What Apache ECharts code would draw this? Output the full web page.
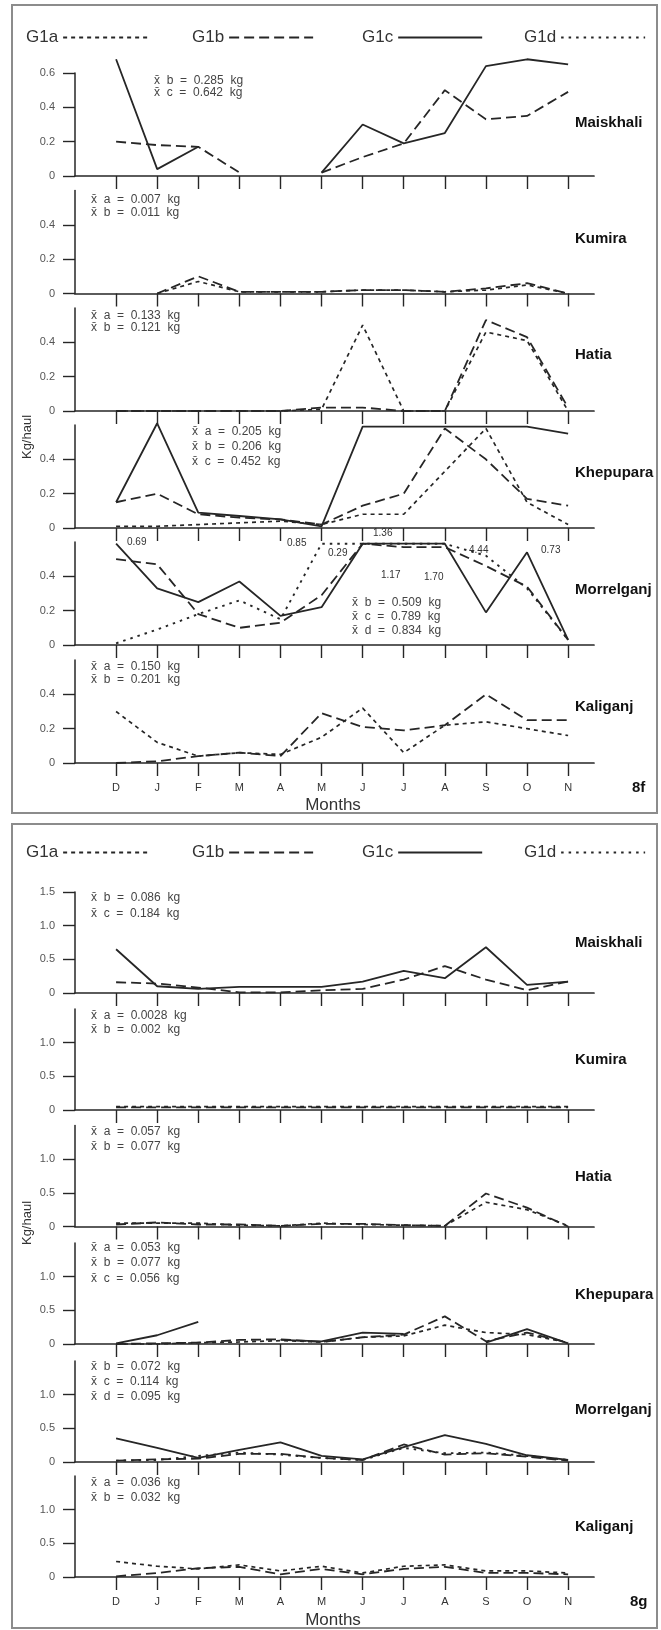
<!DOCTYPE html>
<html>
<head>
<meta charset="utf-8">
<script src="https://cdn.jsdelivr.net/npm/echarts@6/dist/echarts.min.js"></script>
<style>
html,body{margin:0;padding:0;background:#fff;}
#chart{width:661px;height:1630px;}
</style>
</head>
<body>
<div id="chart"></div>
<script>
// ---------- categories ----------
const months = ['D','J','F','M','A','M','J','J','A','S','O','N'];
const seriesNames = ['G1a','G1b','G1c','G1d'];
const stations = ['Maiskhali','Kumira','Hatia','Khepupara','Morrelganj','Kaliganj'];

// ---------- tick labels ----------
const ticks8f = [0, 0.2, 0.4, 0.6];
const ticks8g = [0, 0.5, 1.0, 1.5];

// ---------- Fig 8f values (kg/haul) ----------
const f_maiskhali_b = [0.20, 0.18, 0.17, 0.02, null, 0.02, 0.11, 0.19, 0.50, 0.33, 0.35, 0.49];
const f_maiskhali_c = [0.68, 0.04, 0.17, null, null, 0.02, 0.30, 0.19, 0.25, 0.64, 0.68, 0.65];

const f_kumira_a = [null, 0.00, 0.07, 0.01, 0.01, 0.01, 0.02, 0.02, 0.01, 0.02, 0.05, 0.00];
const f_kumira_b = [null, 0.00, 0.10, 0.01, 0.01, 0.01, 0.02, 0.02, 0.01, 0.03, 0.06, 0.00];

const f_hatia_a = [0.00, 0.00, 0.00, 0.00, 0.00, 0.01, 0.50, 0.00, 0.00, 0.46, 0.41, 0.00];
const f_hatia_b = [0.00, 0.00, 0.00, 0.00, 0.00, 0.02, 0.02, 0.00, 0.00, 0.53, 0.43, 0.02];

const f_khepupara_a = [0.01, 0.01, 0.02, 0.03, 0.04, 0.02, 0.08, 0.08, 0.33, 0.58, 0.15, 0.02];
const f_khepupara_b = [0.15, 0.20, 0.08, 0.06, 0.05, 0.02, 0.13, 0.20, 0.58, 0.40, 0.17, 0.13];
const f_khepupara_c = [0.15, 0.61, 0.09, 0.07, 0.05, 0.01, 0.59, 0.59, 0.59, 0.59, 0.59, 0.55];

const f_morrelganj_b = [0.50, 0.47, 0.18, 0.10, 0.13, 0.29, 0.59, 0.57, 0.57, 0.46, 0.34, 0.03];
const f_morrelganj_c = [0.59, 0.33, 0.25, 0.37, 0.17, 0.22, 0.59, 0.59, 0.59, 0.19, 0.54, 0.03];
const f_morrelganj_d = [0.01, 0.09, 0.18, 0.26, 0.15, 0.59, 0.59, 0.59, 0.59, 0.52, 0.33, 0.03];

const f_kaliganj_a = [0.30, 0.12, 0.04, 0.06, 0.05, 0.15, 0.32, 0.06, 0.22, 0.24, 0.20, 0.16];
const f_kaliganj_b = [0.00, 0.01, 0.04, 0.06, 0.04, 0.29, 0.21, 0.19, 0.22, 0.40, 0.25, 0.25];

// ---------- Fig 8g values (kg/haul) ----------
const g_maiskhali_b = [0.16, 0.14, 0.08, 0.01, 0.01, 0.04, 0.06, 0.20, 0.40, 0.20, 0.04, 0.17];
const g_maiskhali_c = [0.65, 0.10, 0.06, 0.09, 0.09, 0.09, 0.17, 0.33, 0.22, 0.68, 0.12, 0.17];

const g_kumira_a = [0.05, 0.05, 0.05, 0.05, 0.05, 0.05, 0.05, 0.05, 0.05, 0.05, 0.05, 0.05];
const g_kumira_b = [0.04, 0.04, 0.04, 0.04, 0.04, 0.04, 0.04, 0.04, 0.04, 0.04, 0.04, 0.04];

const g_hatia_a = [0.05, 0.05, 0.05, 0.02, 0.01, 0.05, 0.03, 0.02, 0.01, 0.36, 0.25, 0.01];
const g_hatia_b = [0.03, 0.06, 0.03, 0.03, 0.01, 0.04, 0.04, 0.02, 0.01, 0.49, 0.28, 0.00];

const g_khepupara_a = [0.00, 0.00, 0.02, 0.03, 0.05, 0.03, 0.10, 0.12, 0.28, 0.17, 0.14, 0.02];
const g_khepupara_b = [0.00, 0.01, 0.02, 0.06, 0.07, 0.03, 0.10, 0.14, 0.41, 0.04, 0.17, 0.02];
const g_khepupara_c = [0.01, 0.13, 0.33, null, 0.06, 0.04, 0.17, 0.15, null, 0.02, 0.22, 0.01];

const g_morrelganj_b = [0.02, 0.04, 0.05, 0.12, 0.12, 0.06, 0.03, 0.26, 0.11, 0.13, 0.08, 0.02];
const g_morrelganj_c = [0.35, 0.21, 0.06, 0.18, 0.29, 0.09, 0.04, 0.22, 0.40, 0.27, 0.10, 0.03];
const g_morrelganj_d = [0.02, 0.03, 0.09, 0.14, 0.11, 0.06, 0.03, 0.21, 0.13, 0.14, 0.09, 0.03];

const g_kaliganj_a = [0.23, 0.16, 0.12, 0.18, 0.09, 0.16, 0.06, 0.16, 0.18, 0.09, 0.09, 0.06];
const g_kaliganj_b = [0.01, 0.06, 0.13, 0.15, 0.04, 0.12, 0.04, 0.12, 0.15, 0.06, 0.06, 0.04];

// ---------- mean annotations ----------
const means8f = [
  ['x̄  b  =  0.285  kg', 'x̄  c  =  0.642  kg'],
  ['x̄  a  =  0.007  kg', 'x̄  b  =  0.011  kg'],
  ['x̄  a  =  0.133  kg', 'x̄  b  =  0.121  kg'],
  ['x̄  a  =  0.205  kg', 'x̄  b  =  0.206  kg', 'x̄  c  =  0.452  kg'],
  ['x̄  b  =  0.509  kg', 'x̄  c  =  0.789  kg', 'x̄  d  =  0.834  kg'],
  ['x̄  a  =  0.150  kg', 'x̄  b  =  0.201  kg']
];
const means8g = [
  ['x̄  b  =  0.086  kg', 'x̄  c  =  0.184  kg'],
  ['x̄  a  =  0.0028  kg', 'x̄  b  =  0.002  kg'],
  ['x̄  a  =  0.057  kg', 'x̄  b  =  0.077  kg'],
  ['x̄  a  =  0.053  kg', 'x̄  b  =  0.077  kg', 'x̄  c  =  0.056  kg'],
  ['x̄  b  =  0.072  kg', 'x̄  c  =  0.114  kg', 'x̄  d  =  0.095  kg'],
  ['x̄  a  =  0.036  kg', 'x̄  b  =  0.032  kg']
];
const offscaleLabels = ['0.69', '0.85', '0.29', '1.36', '1.17', '1.70', '4.44', '0.73'];

// ---------- layout ----------
const panelSeries = [
  {G1b: f_maiskhali_b, G1c: f_maiskhali_c},
  {G1a: f_kumira_a, G1b: f_kumira_b},
  {G1a: f_hatia_a, G1b: f_hatia_b},
  {G1a: f_khepupara_a, G1b: f_khepupara_b, G1c: f_khepupara_c},
  {G1b: f_morrelganj_b, G1c: f_morrelganj_c, G1d: f_morrelganj_d},
  {G1a: f_kaliganj_a, G1b: f_kaliganj_b},
  {G1b: g_maiskhali_b, G1c: g_maiskhali_c},
  {G1a: g_kumira_a, G1b: g_kumira_b},
  {G1a: g_hatia_a, G1b: g_hatia_b},
  {G1a: g_khepupara_a, G1b: g_khepupara_b, G1c: g_khepupara_c},
  {G1b: g_morrelganj_b, G1c: g_morrelganj_c, G1d: g_morrelganj_d},
  {G1a: g_kaliganj_a, G1b: g_kaliganj_b}
];
const zeros = [176, 293.5, 411, 528, 645, 763, 993, 1110, 1226.5, 1344, 1462, 1577];
const GRID_LEFT = 75, GRID_W = 519;
const FONT = "'Liberation Sans', Arial, Helvetica, sans-serif";
const INK = '#262626';
const lineStyles = {
  G1a: {type: [4, 4], width: 1.7},
  G1b: {type: [10, 5], width: 1.8},
  G1c: {type: 'solid', width: 1.8},
  G1d: {type: [2.5, 5], width: 1.9}
};

const grids = [], xAxes = [], yAxes = [], series = [];
for (let i = 0; i < 12; i++) {
  const fig8g = i >= 6;
  const H = fig8g ? 101 : 103;
  const isTop = (i % 6) === 0;
  const isBottom = (i % 6) === 5;
  grids.push({left: GRID_LEFT, width: GRID_W, top: zeros[i] - H, height: H, containLabel: false});
  xAxes.push({
    type: 'value', gridIndex: i, min: -1, max: 11.63,
    axisLine: {show: true, onZero: false, lineStyle: {color: INK, width: 1.7}},
    axisTick: {show: true, customValues: months.map((m, k) => k), length: 13, lineStyle: {color: INK, width: 1.4}},
    axisLabel: {show: isBottom, customValues: months.map((m, k) => k), margin: 19,
      formatter: v => months[Math.round(v)] || '', color: '#333', fontSize: 11, fontFamily: FONT},
    splitLine: {show: false}
  });
  const tk = (fig8g ? ticks8g : ticks8f).filter(v => isTop || v < (fig8g ? 1.5 : 0.6));
  yAxes.push({
    type: 'value', gridIndex: i, min: 0, max: fig8g ? 1.5 : 0.6,
    axisLine: {show: true, onZero: false, lineStyle: {color: INK, width: 1.5}},
    axisTick: {show: true, customValues: tk, length: 12, lineStyle: {color: INK, width: 1.4}},
    axisLabel: {show: true, customValues: tk, margin: 20, color: '#555', fontSize: 11, fontFamily: FONT,
      formatter: v => v === 0 ? '0' : v.toFixed(1)},
    splitLine: {show: false}
  });
  const ps = panelSeries[i];
  Object.keys(ps).forEach(name => {
    series.push({
      type: 'line', name: name, xAxisIndex: i, yAxisIndex: i,
      data: ps[name].map((v, k) => [k, v == null ? '-' : v]),
      symbol: 'none', showSymbol: false, clip: false, connectNulls: false,
      lineStyle: Object.assign({color: INK}, lineStyles[name]),
      itemStyle: {color: INK},
      emphasis: {disabled: true}, silent: true, animation: false
    });
  });
}

// legends (one per item for exact placement)
const legendStarts = [21, 187, 357, 519];
const legendTops = [33, 848];
const legends = [];
legendTops.forEach(t => {
  seriesNames.forEach((n, k) => {
    legends.push({
      data: [n], left: legendStarts[k], top: t - 9, itemWidth: 84, itemHeight: 18,
      align: 'right', selectedMode: false,
      itemStyle: {opacity: 0, borderWidth: 0},
      textStyle: {fontSize: 17, color: '#333', fontFamily: FONT}
    });
  });
});

// graphics: frames, labels, annotations
const graphic = [];
function txt(x, y, text, opt) {
  graphic.push(Object.assign({type: 'text', x: x, y: y, silent: true,
    style: Object.assign({text: text, fill: '#333', font: '11px ' + FONT, align: 'left', verticalAlign: 'middle'}, (opt || {}).style || {})},
    (opt || {}).el || {}));
}
graphic.push({type: 'rect', shape: {x: 12, y: 5, width: 645, height: 808}, style: {fill: 'none', stroke: '#8c8c8c', lineWidth: 2}, silent: true});
graphic.push({type: 'rect', shape: {x: 12, y: 824, width: 645, height: 804}, style: {fill: 'none', stroke: '#8c8c8c', lineWidth: 2}, silent: true});

const stationY = [123, 239, 355, 473, 590, 707, 943, 1060, 1177, 1295, 1410, 1527];
stationY.forEach((y, i) => txt(575, y, stations[i % 6], {style: {font: 'bold 15px ' + FONT, fill: '#111'}}));

const meanPos8f = [[154, [81, 93]], [91, [200, 213]], [91, [316, 328]], [192, [432, 447, 462]], [352, [603, 617, 631]], [91, [667, 680]]];
const meanPos8g = [[91, [898, 914]], [91, [1016, 1030]], [91, [1132, 1147]], [91, [1248, 1263, 1279]], [91, [1367, 1382, 1397]], [91, [1483, 1498]]];
meanPos8f.forEach((p, i) => means8f[i].forEach((t, j) => txt(p[0], p[1][j], t, {style: {font: '12px ' + FONT, fill: '#444'}})));
meanPos8g.forEach((p, i) => means8g[i].forEach((t, j) => txt(p[0], p[1][j], t, {style: {font: '12px ' + FONT, fill: '#444'}})));

const offPos = [[127, 542], [287, 543], [328, 553], [373, 533], [381, 575], [424, 577], [469, 550], [541, 550]];
offPos.forEach((p, i) => txt(p[0], p[1], offscaleLabels[i], {style: {font: '10px ' + FONT, fill: '#333'}}));

txt(333, 805, 'Months', {style: {font: '17px ' + FONT, align: 'center', fill: '#333'}});
txt(333, 1620, 'Months', {style: {font: '17px ' + FONT, align: 'center', fill: '#333'}});
txt(632, 788, '8f', {style: {font: 'bold 15px ' + FONT, fill: '#111'}});
txt(630, 1602, '8g', {style: {font: 'bold 15px ' + FONT, fill: '#111'}});
txt(27, 437, 'Kg/haul', {style: {font: '13px ' + FONT, align: 'center', fill: '#333'}, el: {rotation: Math.PI / 2}});
txt(27, 1223, 'Kg/haul', {style: {font: '13px ' + FONT, align: 'center', fill: '#333'}, el: {rotation: Math.PI / 2}});

const chart = echarts.init(document.getElementById('chart'), null, {renderer: 'canvas'});
chart.setOption({
  backgroundColor: '#fff',
  animation: false,
  grid: grids, xAxis: xAxes, yAxis: yAxes, series: series,
  legend: legends,
  graphic: graphic
});
</script>
</body>
</html>
